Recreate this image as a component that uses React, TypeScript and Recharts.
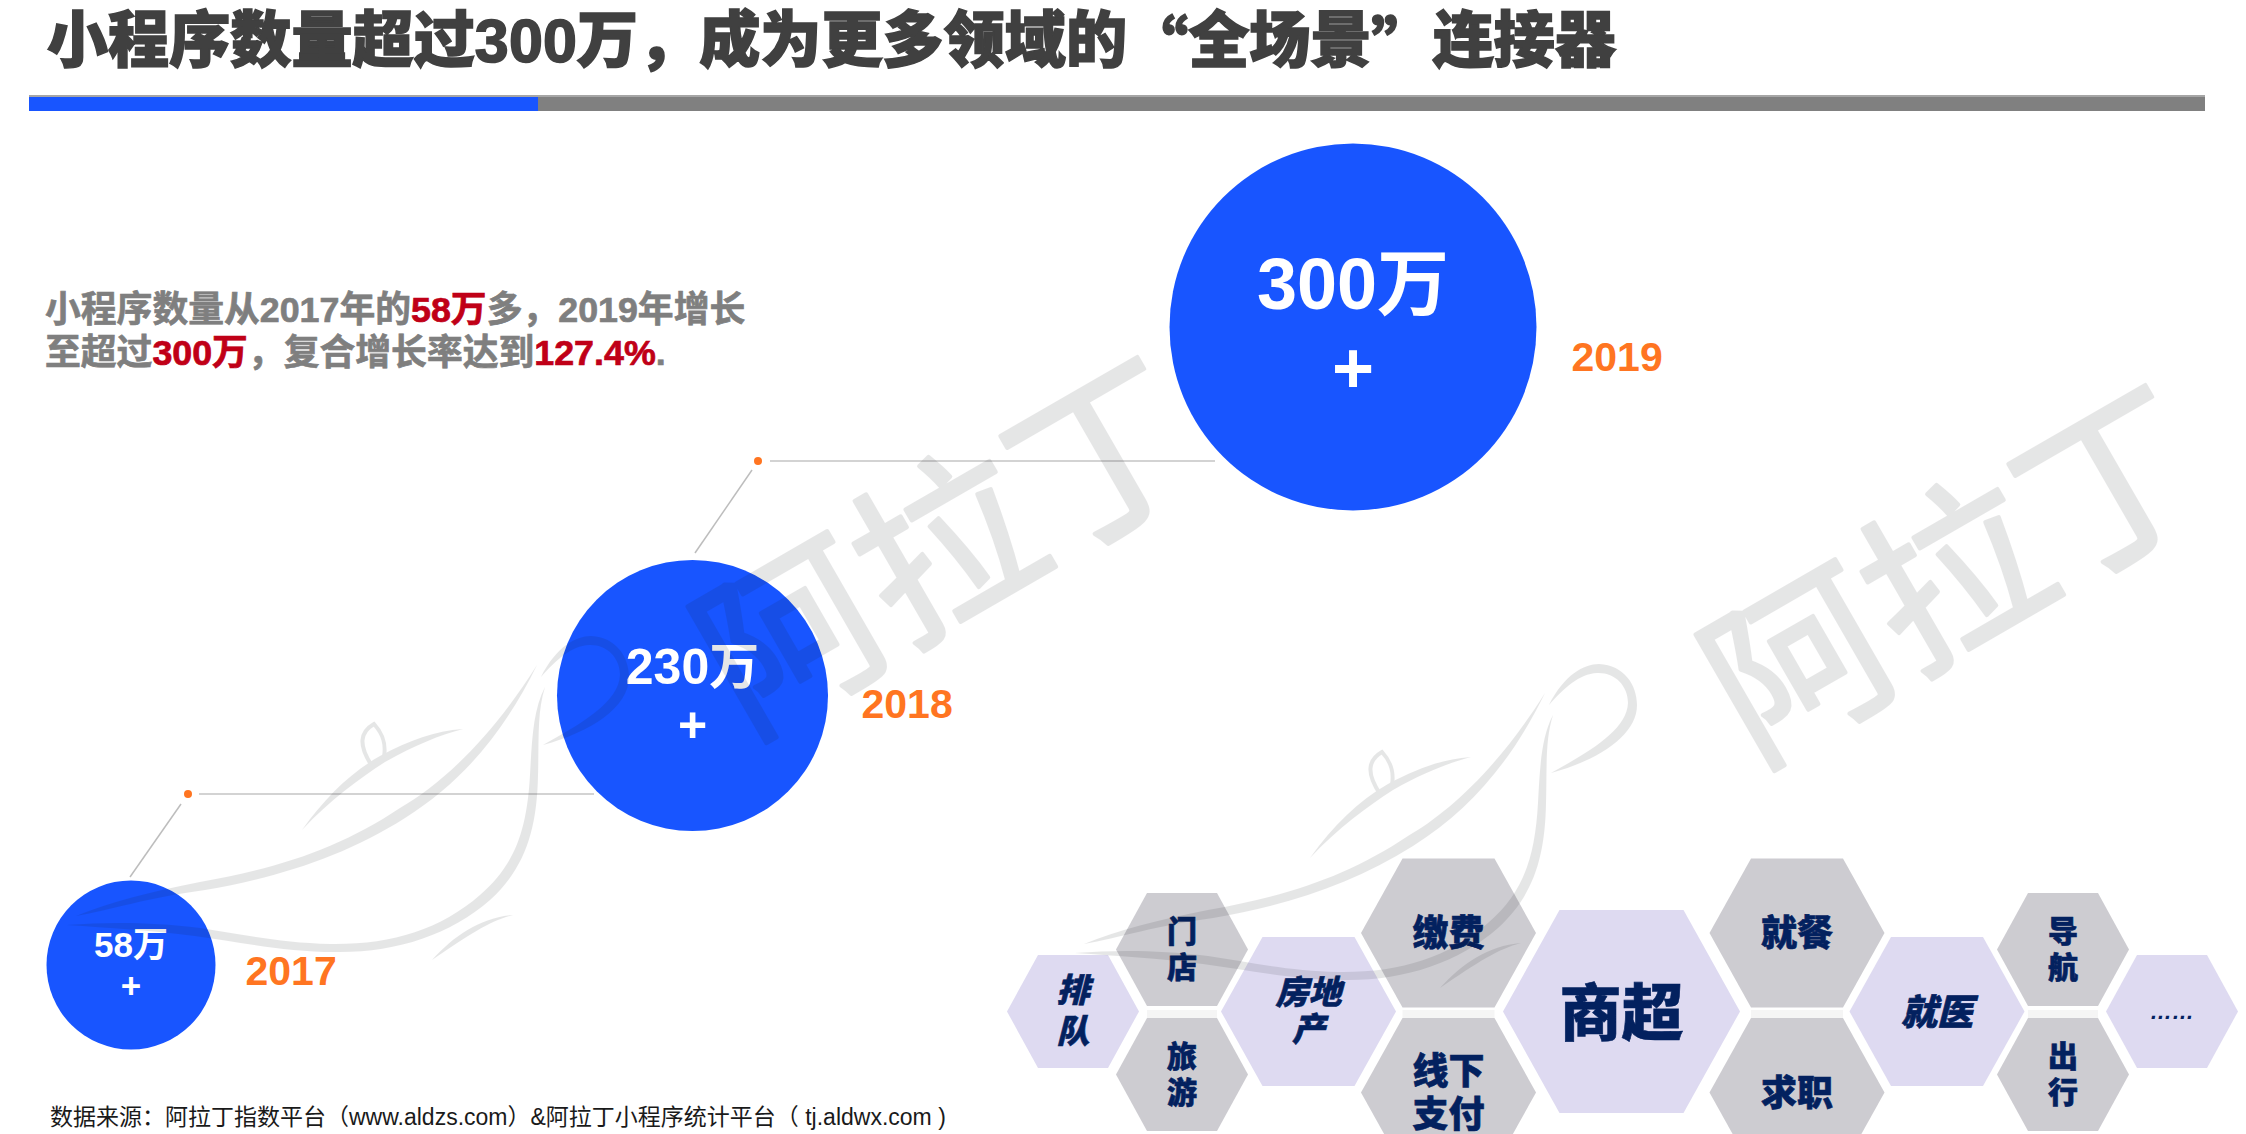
import React from 'react';
import { ScatterChart, Scatter, XAxis, YAxis, ZAxis } from 'recharts';

// ---- data ----
const years = [2017, 2018, 2019];
const counts = [58, 230, 300];
const countLabels = ['58万', '230万', '300万'];
const countSuffix = '+';

const hexLabels = [['排', '队'], ['门', '店'], ['旅', '游'], ['房地', '产'], ['缴费'], ['线下', '支付'], ['商超'], ['就餐'], ['求职'], ['就医'], ['导', '航'], ['出', '行'], ['……']];
const hexColumns = [0, 1, 1, 2, 3, 3, 4, 5, 5, 6, 7, 7, 8];
const hexRows = [0, -1, 1, 0, -2, 2, 0, -2, 2, 0, -1, 1, 0];
const hexKinds = ['s', 's', 's', 'm', 'm', 'm', 'l', 'm', 'm', 'm', 's', 's', 's'];
const hexTones = ['a', 'b', 'b', 'a', 'b', 'b', 'a', 'b', 'b', 'a', 'b', 'b', 'a'];

const titleHead = '小程序数量超过300万，成为更多领域的';
const titleQuoteOpen = '“';
const titleMid = '全场景';
const titleQuoteClose = '”';
const titleTail = '连接器';
const sourceText = '数据来源：阿拉丁指数平台（www.aldzs.com）&阿拉丁小程序统计平台（ tj.aldwx.com )';
const watermarkText = '阿拉丁';

// ---- scale layout ----
const stopScale = (from: number[], to: number[]): any => {
  const s: any = (v: number) => {
    if (v == null || Number.isNaN(v)) return undefined;
    let i = 0;
    while (i < from.length - 2 && v > from[i + 1]) i++;
    const t = (v - from[i]) / (from[i + 1] - from[i]);
    return to[i] + t * (to[i + 1] - to[i]);
  };
  s.domain = (d?: any) => (d === undefined ? [from[0], from[from.length - 1]] : s);
  s.range = (r?: any) => (r === undefined ? [to[0], to[to.length - 1]] : s);
  s.copy = () => stopScale(from, to);
  s.ticks = () => from;
  s.tickFormat = () => String;
  return s;
};
const circleR = [84.5, 135.5, 183.5];
const xScale = stopScale(years, [131, 692.5, 1353]);
const yScale = stopScale(counts, [965, 695.5, 327]);
const zScale = stopScale(counts, circleR.map((r) => Math.PI * r * r));
const hexX = stopScale([0, 1, 2, 3, 4, 5, 6, 7, 8], [1073, 1182, 1308.5, 1448.5, 1621.5, 1797, 1937, 2063, 2172]);
const hexY = stopScale([-2, -1, 0, 1, 2], [933, 949.5, 1011.5, 1074.5, 1092.5]);

const SANS = '"Liberation Sans","Noto Sans CJK SC",sans-serif';
const CJK = '"Noto Sans CJK SC",sans-serif';
const W = 2246;
const H = 1134;
const BLUE = '#1855FF';
const ORANGE = '#FF7521';
const NAVY = '#03215F';

const circleData = years.map((year, i) => ({ year, count: counts[i], label: countLabels[i] }));
const hexData = hexLabels.map((lines, i) => ({ lines, col: hexColumns[i], row: hexRows[i], kind: hexKinds[i], tone: hexTones[i] }));

const labelStyle: Record<number, any> = {
  2017: { font: 35, top: -21, plus: 20.3, yearX: 30, yearY: 6 },
  2018: { font: 50, top: -29, plus: 29, yearX: 33.5, yearY: 8 },
  2019: { font: 72, top: -42.6, plus: 41.4, yearX: 35, yearY: 30 },
};

const CircleMark = (props: any) => {
  const { cx, cy, width, payload } = props;
  const r = width / 2;
  const st = labelStyle[payload.year];
  return (
    <g>
      <circle cx={cx} cy={cy} r={r} fill={BLUE} />
      <text x={cx} y={cy + st.top} textAnchor="middle" dominantBaseline="central" fontFamily={SANS} fontWeight={700} fontSize={st.font} fill="#fff">{payload.label}</text>
      <text x={cx} y={cy + st.plus} textAnchor="middle" dominantBaseline="central" fontFamily={SANS} fontWeight={700} fontSize={st.font} fill="#fff">{countSuffix}</text>
      <text x={cx + r + st.yearX} y={cy + st.yearY} textAnchor="start" dominantBaseline="central" fontFamily={SANS} fontWeight={700} fontSize={41} fill={ORANGE}>{payload.year}</text>
    </g>
  );
};

const hexGeom: Record<string, any> = {
  s: { hw: 66, hh: 56.5, top: 35, font: 30, pitch: 36 },
  m: { hw: 87.5, hh: 74.5, top: 46, font: 36, pitch: 43 },
  l: { hw: 118.5, hh: 101.5, top: 62, font: 62, pitch: 60 },
};
const HexMark = (props: any) => {
  const { cx, cy, payload } = props;
  const g = hexGeom[payload.kind];
  const pts = [[-g.hw, 0], [-g.top, -g.hh], [g.top, -g.hh], [g.hw, 0], [g.top, g.hh], [-g.top, g.hh]]
    .map(([a, b]) => `${cx + a},${cy + b}`).join(' ');
  const lav = payload.tone === 'a';
  const italic = lav && payload.kind !== 'l';
  const isDots = payload.lines[0] === '……';
  const pitch = payload.lines[0] === '房地' ? 37 : payload.lines[0] === '排' ? 41 : g.pitch;
  const start = -((payload.lines.length - 1) * pitch) / 2;
  const reflect = payload.row > 0;
  const font = isDots ? 22 : payload.lines[0] === '排' || payload.lines[0] === '房地' ? 33 : g.font;
  return (
    <g>
      {reflect && <rect x={cx - g.top} y={cy - g.hh - 8} width={g.top * 2} height={8} fill="#F5F5F5" />}
      <polygon points={pts} fill={lav ? '#DEDAF1' : '#CDCCD1'} />
      {payload.lines.map((t: string, i: number) => (
        <text key={i} x={cx} y={cy + start + i * pitch - (isDots ? 0 : 3)} textAnchor="middle" dominantBaseline="central"
          fontFamily={isDots ? SANS : CJK} fontWeight={900} fontStyle={italic ? 'italic' : 'normal'}
          fontSize={font} fill={NAVY} stroke={NAVY} strokeWidth={isDots ? 0 : 0.6}>{t}</text>
      ))}
    </g>
  );
};

const Para = ({ y, parts }: { y: number; parts: [string, boolean][] }) => (
  <text x={45} y={y} dominantBaseline="central" fontFamily={SANS} fontWeight={700} fontSize={35.8} fill="#7F7F7F">
    {parts.map(([t, red], i) => {
      const c = red ? '#C00017' : '#7F7F7F';
      return <tspan key={i} fill={c} stroke={c} strokeWidth={0.7}>{t}</tspan>;
    })}
  </text>
);

const Leader = ({ dot, h, d }: { dot: number[]; h: number[]; d: number[] }) => (
  <g>
    <circle cx={dot[0]} cy={dot[1]} r={4} fill={ORANGE} />
    <line x1={h[0]} x2={h[1]} y1={dot[1]} y2={dot[1]} stroke="#C4C4C4" strokeWidth={1.6} />
    <line x1={d[0]} y1={d[1]} x2={d[2]} y2={d[3]} stroke="#BDBDBD" strokeWidth={1.5} />
  </g>
);

const WatermarkUnit = ({ dx, dy }: { dx: number; dy: number }) => (
  <g transform={`translate(${dx},${dy})`} fill="#101418" stroke="none">
    <text transform="translate(941,535) rotate(-30)" textAnchor="middle" dominantBaseline="central"
      fontFamily={CJK} fontWeight={400} fontSize={180} letterSpacing={0}
      stroke="#101418" strokeWidth={4} strokeLinejoin="round">{watermarkText}</text>
    <path d="M537,665 C490,740 440,785 400,808 C340,848 280,868 200,882 C150,892 110,902 76,916 C110,910 150,897 205,890 C280,877 345,856 405,818 C465,780 505,730 537,665 Z" />
    <path d="M545,687 C533,710 532,740 530,775 C527,830 515,865 480,895 C440,930 390,945 330,944 C280,943 240,934 200,928 C150,922 110,922 67,925 C110,928 150,930 195,936 C240,942 285,952 335,952 C395,953 450,935 490,900 C525,868 537,830 538,775 C539,740 537,712 545,687 Z" />
    <path d="M302,830 C330,800 360,778 385,762 C415,745 440,735 463,729 C435,731 410,740 380,756 C350,773 325,798 302,830 Z" />
    <path d="M432,960 C455,935 480,918 513,915 C490,921 470,934 432,960 Z" />
    <path d="M541,677 C556,647 576,636 591,636 C616,637 629,657 629,677 C629,707 591,732 543,745 C581,724 619,702 620,675 C620,657 606,644 589,645 C571,646 556,660 541,677 Z" />
    <path d="M372,766 C358,745 360,732 374,724 C384,735 386,745 384,757" fill="none" stroke="#101418" strokeWidth={4} />
  </g>
);

export default function App() {
  return (
    <div style={{ position: 'absolute', left: 0, top: 0, width: W, height: H, background: '#fff', overflow: 'hidden' }}>
      <ScatterChart width={W} height={H} margin={{ top: 0, right: 0, bottom: 0, left: 0 }}>
        <XAxis xAxisId="year" type="number" dataKey="year" domain={[2017, 2019]} scale={xScale} hide />
        <YAxis yAxisId="count" type="number" dataKey="count" domain={[58, 300]} scale={yScale} hide />
        <ZAxis zAxisId="size" type="number" dataKey="count" domain={[58, 300]} scale={zScale} range={[22000, 107000]} />
        <XAxis xAxisId="hexCol" type="number" dataKey="col" domain={[0, 8]} scale={hexX} hide />
        <YAxis yAxisId="hexRow" type="number" dataKey="row" domain={[-2, 2]} scale={hexY} hide />

        <text x={47} y={41} dominantBaseline="central" fontFamily={SANS} fontWeight={900} fontSize={61} letterSpacing={0.12} fill="#404040" stroke="#404040" strokeWidth={1.6}>
          {titleHead}
          <tspan fontFamily={CJK}>{titleQuoteOpen}</tspan>
          {titleMid}
          <tspan fontFamily={CJK}>{titleQuoteClose}</tspan>
          {titleTail}
        </text>
        <rect x={29} y={95} width={2176} height={2} fill="#A6A6A6" />
        <rect x={29} y={97} width={509} height={14} fill={BLUE} />
        <rect x={538} y={97} width={1667} height={14} fill="#808080" />

        <Para y={310} parts={[['小程序数量从2017年的', false], ['58万', true], ['多，2019年增长', false]]} />
        <Para y={353} parts={[['至超过', false], ['300万', true], ['，复合增长率达到', false], ['127.4%', true], ['.', false]]} />

        <Leader dot={[188, 794]} h={[199, 594]} d={[181, 804, 130, 877]} />
        <Leader dot={[758, 461]} h={[770, 1215]} d={[752, 470, 695, 553]} />

        <Scatter data={hexData} xAxisId="hexCol" yAxisId="hexRow" shape={HexMark} isAnimationActive={false} />
        <Scatter data={circleData} xAxisId="year" yAxisId="count" zAxisId="size" shape={CircleMark} isAnimationActive={false} />

        <text x={50} y={1117} dominantBaseline="central" fontFamily={SANS} fontSize={23} fill="#1A1A1A">{sourceText}</text>
      </ScatterChart>
      <svg width={W} height={H} style={{ position: 'absolute', left: 0, top: 0, pointerEvents: 'none' }} opacity={0.1}>
        <WatermarkUnit dx={0} dy={0} />
        <WatermarkUnit dx={1008} dy={28} />
      </svg>
    </div>
  );
}
